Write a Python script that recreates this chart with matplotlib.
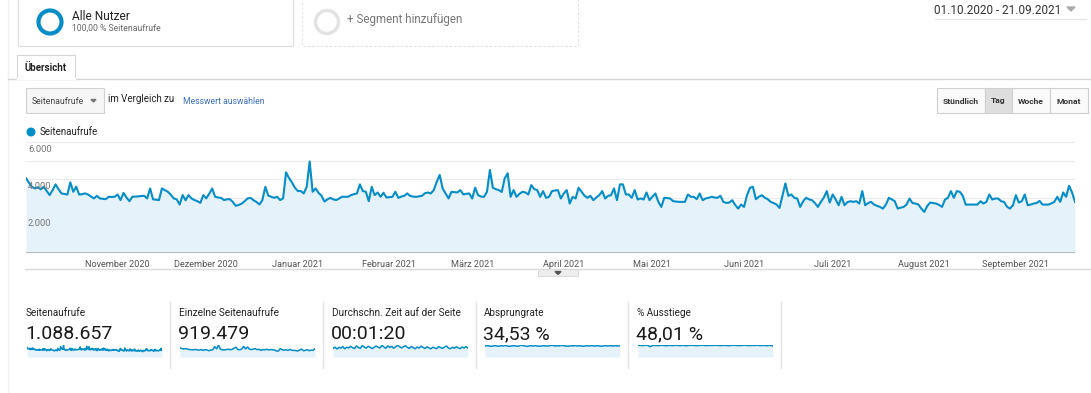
import numpy as np
import pandas as pd
import matplotlib
matplotlib.use('Agg')
import matplotlib.pyplot as plt
from matplotlib.patches import Rectangle, Circle, Polygon

plt.rcParams['font.family'] = ['Roboto', 'DejaVu Sans']

# Seitenaufrufe pro Tag, 01.10.2020 - 21.09.2021
seitenaufrufe = [
    4040, 3800, 3580, 3490, 3560, 3440, 3580, 3350, 3130, 3400,
    3710, 3450, 3220, 3190, 3160, 3820, 3310, 3580, 3160, 3180,
    3220, 3160, 3050, 2950, 3090, 2950, 2930, 2910, 3040, 3030,
    3040, 3160, 2860, 3250, 3000, 2800, 3040, 3050, 3060, 3080,
    3090, 2950, 3490, 2900, 2880, 2860, 3490, 3400, 3310, 3150,
    2950, 2900, 2620, 3130, 2850, 3130, 2950, 2860, 2800, 2710,
    3130, 2950, 3200, 3490, 3040, 3000, 2980, 2860, 2900, 2910,
    2760, 2550, 2600, 2670, 2800, 2950, 2980, 2850, 2760, 2620,
    2860, 3580, 3100, 3040, 2980, 3040, 2860, 2950, 4360, 4050,
    3820, 3530, 3350, 3350, 3220, 3580, 4945, 3310, 3490, 3250,
    3100, 2780, 2900, 2980, 2900, 2860, 2950, 3040, 3040, 3040,
    3130, 3180, 3220, 3710, 3345, 3310, 2800, 3580, 3130, 3270,
    3040, 3255, 3000, 3020, 3036, 3310, 2980, 3050, 3090, 3220,
    3090, 3050, 3036, 3060, 3090, 3230, 3270, 3220, 3400, 3850,
    4220, 3490, 3220, 2950, 3309, 3290, 3273, 3400, 3164, 3200,
    3218, 2945, 3530, 3127, 3050, 3036, 3309, 4491, 3527, 3450,
    3400, 3300, 4036, 4309, 3036, 3400, 3036, 3200, 3309, 3273,
    3164, 3673, 3455, 3400, 3036, 3345, 2982, 3036, 3345, 3380,
    3400, 2945, 3218, 3400, 2673, 3036, 2945, 3527, 3309, 3100,
    2982, 3091, 2855, 3000, 3127, 3345, 2945, 3091, 3127, 3491,
    2855, 3709, 3709, 3164, 3164, 2982, 3400, 2891, 2950, 2891,
    3273, 2855, 3050, 3218, 2764, 2491, 2982, 2970, 2945, 2800,
    2780, 2764, 2764, 2764, 3164, 3036, 3036, 2909, 3218, 2855,
    2950, 2982, 3036, 3000, 2982, 3091, 2764, 2709, 2727, 2855,
    2600, 2400, 2618, 2491, 3127, 3527, 3582, 2909, 3036, 3127,
    2990, 2909, 2764, 2700, 2620, 2436, 3100, 3764, 3091, 3164,
    2982, 2945, 2491, 2800, 2982, 2900, 2855, 2700, 2491, 2764,
    3000, 3345, 2727, 3164, 2900, 2582, 3036, 2582, 2750, 2800,
    2764, 2800, 2673, 3345, 2582, 2700, 2764, 2618, 2550, 2491,
    2400, 2618, 2982, 2900, 2800, 2400, 2450, 2491, 2618, 2945,
    2700, 2673, 2618, 2400, 2218, 2545, 2727, 2700, 2673, 2600,
    2491, 2891, 2982, 3345, 2982, 3345, 3309, 3100, 2618, 2618,
    2618, 2618, 2618, 2800, 2673, 2764, 3164, 2891, 2945, 2945,
    2800, 2764, 2500, 2400, 2582, 3127, 2727, 2800, 3164, 2582,
    2620, 2673, 2700, 2818, 2618, 2618, 2618, 2680, 2764, 3036,
    2764, 3273, 3036, 3636, 3273, 2764,
]
tage = pd.date_range('2020-10-01', '2021-09-21', freq='D')

monate = ['Januar', 'Februar', 'März', 'April', 'Mai', 'Juni', 'Juli',
          'August', 'September', 'Oktober', 'November', 'Dezember']
tick_tage = pd.date_range('2020-11-01', '2021-09-01', freq='MS')
y_ticks = [2000, 4000, 6000]
y_labels = ['2.000', '4.000', '6.000']

# Kennzahlen unten
karten_titel = ['Seitenaufrufe', 'Einzelne Seitenaufrufe', 'Durchschn. Zeit auf der Seite',
                'Absprungrate', '% Ausstiege']
karten_werte = ['1.088.657', '919.479', '00:01:20', '34,53 %', '48,01 %']

einzelne = [3300, 2900, 2800, 2950, 2700, 2600, 2550, 2500, 2650, 2450,
            2400, 2600, 2300, 2550, 2450, 2200, 2400, 2550, 3600, 2850,
            4100, 2700, 2500, 2450, 2600, 2700, 2550, 2650, 3050, 3400,
            2600, 2550, 2750, 3700, 2800, 3500, 2700, 2600, 2750, 2900,
            2550, 2700, 2300, 2600, 2500, 2700, 2450, 2600, 2500, 2450,
            2100, 2050, 2950, 2500, 2400, 2550, 2300, 2650, 2350, 2300,
            2250, 2100, 2400, 2750, 2200, 2300, 2550, 2200, 2400, 2300, 2900]
zeit = [72, 84, 68, 82, 75, 88, 70, 83, 77, 90, 79, 72, 94, 80, 74, 97, 84, 76, 91, 83,
        71, 82, 93, 84, 76, 99, 86, 74, 95, 81, 90, 75, 86, 100, 88, 77, 87, 96, 82, 73,
        89, 80, 70, 85, 76, 92, 82, 72, 87, 78, 69, 83, 77, 71, 88, 80, 73, 85, 93, 76,
        70, 83, 74, 87, 78, 71, 85, 76, 89, 74]
absprung = [34, 35, 34.5, 33, 34, 35.5, 34, 33.5, 35, 34, 36, 34.5, 33, 34, 35, 34.5, 33.5, 34, 36.5, 35,
            34, 33, 34.5, 35, 34, 35.5, 34, 33.5, 34, 35, 34.5, 34, 35, 36, 35.5, 34, 35, 34.5, 36, 35,
            34, 33.5, 34, 35, 34.5, 35.5, 34, 35, 34, 33.5, 34.5, 35, 34, 35.5, 34, 34.5, 35, 34, 33.5, 34.5,
            35, 34, 35.5, 34, 34.5, 35, 34, 34.5]
ausstiege = [48, 48.5, 47.5, 48, 49, 48, 43, 47, 48.5, 48, 47.5, 48, 49, 48, 47, 48, 48.5, 47.5, 48, 49,
             48, 47.5, 48.5, 48, 47, 48, 49, 48.5, 48, 47.5, 48, 48.5, 49, 48, 47.5, 48, 48.5, 48, 49, 48.5,
             48, 47.5, 48, 48.5, 48, 47, 48, 49, 48.5, 48, 47.5, 48, 48.5, 49, 48, 47.5, 48, 48.5, 48, 49,
             48, 47.5, 48.5, 48, 47, 48.5, 48, 45]
sparks = [seitenaufrufe, einzelne, zeit, absprung, ausstiege]

BLAU = '#058dc7'
FLAECHE = '#e6f2f9'
W, H = 1091, 393


def box(x, y, w, h):
    return [x / W, 1 - (y + h) / H, w / W, h / H]


fig = plt.figure(figsize=(W / 100, H / 100), dpi=100)
fig.patch.set_facecolor('white')

# Hintergrund-Achse in Pixelkoordinaten fuer die Oberflaeche
ui = fig.add_axes([0, 0, 1, 1])
ui.set_xlim(0, W)
ui.set_ylim(H, 0)
ui.axis('off')

ui.plot([8, 8], [0, H], color='#f2f2f2', lw=1)
# Segmente
ui.add_patch(Rectangle((18, -2), 275, 48, fill=False, ec='#dcdcdc', lw=0.8))
ui.add_patch(Circle((50, 22), 11.5, fill=False, ec=BLAU, lw=3))
ui.text(72, 16, 'Alle Nutzer', fontsize=8.6, color='#222', va='center')
ui.text(72, 28, '100,00 % Seitenaufrufe', fontsize=6.2, color='#666', va='center')
ui.add_patch(Rectangle((302, -2), 276, 48, fill=False, ec='#e0e0e0', lw=0.8, ls=(0, (2, 2))))
ui.add_patch(Circle((327, 22), 11.5, fill=False, ec='#e3e3e3', lw=2.5))
ui.text(347, 20, '+ Segment hinzufügen', fontsize=8.4, color='#777', va='center')

# Zeitraum
ui.text(1061, 10, '01.10.2020 - 21.09.2021', fontsize=8.5, color='#333', va='center', ha='right')
ui.add_patch(Polygon([[1067, 7], [1075, 7], [1071, 11]], color='#aaa'))
ui.plot([935, 1086], [19, 19], color='#e6e6e6', lw=1)

# Tab
ui.plot([8, W], [79, 79], color='#d6d6d6', lw=1)
ui.add_patch(Rectangle((17, 55), 58, 24, fc='white', ec='#d6d6d6', lw=0.8))
ui.plot([17.5, 74.5], [79, 79], color='white', lw=1.5)
ui.text(46, 68, 'Übersicht', fontsize=7, color='#222', weight='bold', ha='center', va='center')

# Auswahl
ui.add_patch(Rectangle((26, 88), 78, 25, fc='#f6f6f6', ec='#d0d0d0', lw=0.8))
ui.text(32, 101, 'Seitenaufrufe', fontsize=6.2, color='#444', va='center')
ui.add_patch(Polygon([[91, 99.5], [96, 99.5], [93.5, 102]], color='#777'))
ui.text(108, 99, 'im Vergleich zu', fontsize=7, color='#222', va='center')
ui.text(183, 101, 'Messwert auswählen', fontsize=6.2, color='#3a6fbf', va='center')

# Zeitraster-Buttons
knoepfe = ['Stündlich', 'Tag', 'Woche', 'Monat']
kanten = [937, 985, 1012, 1050, 1088]
for i, name in enumerate(knoepfe):
    fc = '#dedede' if name == 'Tag' else '#fafafa'
    ui.add_patch(Rectangle((kanten[i], 88), kanten[i + 1] - kanten[i], 25, fc=fc, ec='#d0d0d0', lw=0.8))
    ui.text((kanten[i] + kanten[i + 1]) / 2, 101, name, fontsize=6.1, color='#333',
            weight='bold', ha='center', va='center')

# Legende
ui.add_patch(Circle((31, 132), 3.8, color=BLAU))
ui.text(40, 132, 'Seitenaufrufe', fontsize=7, color='#222', va='center')

# Linie unter dem Diagramm mit Griff
ui.plot([25, W], [269, 269], color='#dadada', lw=1)
ui.add_patch(Rectangle((538, 269), 40, 7, fc='#eeeeee', ec='#d6d6d6', lw=0.6))
ui.add_patch(Polygon([[555, 271.5], [561, 271.5], [558, 274.5]], color='#555'))

# Hauptdiagramm
ax = fig.add_axes(box(26, 142, 1049, 111))
ax.set_facecolor('none')
ax.fill_between(tage, seitenaufrufe, 0, color=FLAECHE, lw=0)
ax.plot(tage, seitenaufrufe, color=BLAU, lw=1.5, solid_joinstyle='round')
ax.set_xlim(tage[0], tage[-1])
ax.set_ylim(0, 6000)
for v in range(1000, 7000, 1000):
    ax.axhline(v, color='#ebebeb', lw=0.8, zorder=0)
ax.axhline(0, color='#b0b0b0', lw=1.2)
for v, t in zip(y_ticks, y_labels):
    ax.text(0.002, v - 150, t, transform=ax.get_yaxis_transform(), fontsize=6.8,
            color='#777', va='top', ha='left')
ax.set_yticks([])
ax.set_xticks(tick_tage)
ax.set_xticklabels([f'{monate[d.month - 1]} {d.year}' for d in tick_tage],
                   fontsize=6.6, color='#555')
ax.tick_params(axis='x', length=0, pad=5)
for s in ax.spines.values():
    s.set_visible(False)

# Kennzahlen-Karten
links = [26, 179, 332, 484, 637]
for i in range(5):
    x0 = links[i]
    ui.text(x0, 313, karten_titel[i], fontsize=7.2, color='#222', va='center')
    ui.text(x0 - 1, 334, karten_werte[i], fontsize=14, color='#1a1a1a', va='center')
    ui.plot([x0 + 144, x0 + 144], [302, 368], color='#e3e3e3', lw=1)
    sp = fig.add_axes(box(x0 + 1, 345, 135, 12))
    werte = sparks[i]
    xs = np.arange(len(werte))
    sp.fill_between(xs, werte, 0, color=FLAECHE, lw=0)
    sp.plot(xs, werte, color=BLAU, lw=1.1)
    sp.set_xlim(0, len(werte) - 1)
    sp.set_ylim(0, max(werte) * 1.02)
    sp.axis('off')

fig.savefig('out.png', dpi=100, facecolor='white')
